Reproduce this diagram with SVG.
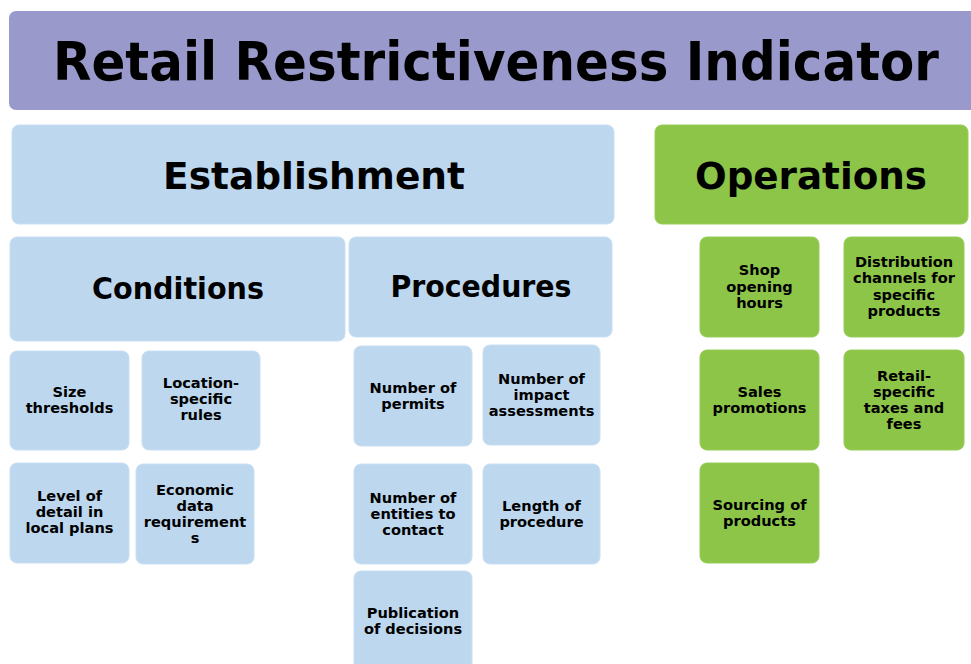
<svg xmlns="http://www.w3.org/2000/svg" width="971" height="664" viewBox="0 0 971 664">
<style>
.blue{fill:#BDD7EE;stroke:#C9DFF2;stroke-width:1}
.green{fill:#8DC549;stroke:#98CC58;stroke-width:1}
.title{fill:#9999CC}
text{font-family:"DejaVu Sans","Verdana",sans-serif;font-weight:bold;fill:#000;text-anchor:middle}
.s{font-size:14.6px}
.h{font-size:30px}
.b{font-size:38px}
</style>
<rect width="971" height="664" fill="#FFFFFF"/>
<g id="title">
<path class="title" d="M16,11 H971 V110 H16 A7,7 0 0 1 9,103 V18 A7,7 0 0 1 16,11 Z"/>
<text x="496" y="80" style="font-size:54px" textLength="886" lengthAdjust="spacingAndGlyphs">Retail Restrictiveness Indicator</text>
</g>
<g id="establishment">
<rect class="blue" x="12" y="125" width="602" height="99" rx="7"/>
<text class="b" x="314" y="189" textLength="302" lengthAdjust="spacingAndGlyphs">Establishment</text>
</g>
<g id="operations">
<rect class="green" x="655" y="125" width="313" height="99" rx="7"/>
<text class="b" x="811" y="189" textLength="232" lengthAdjust="spacingAndGlyphs">Operations</text>
</g>
<g id="conditions">
<rect class="blue" x="10" y="237" width="335" height="104" rx="7"/>
<text class="h" x="178" y="299" textLength="172" lengthAdjust="spacingAndGlyphs">Conditions</text>
</g>
<g id="procedures">
<rect class="blue" x="349" y="237" width="263" height="100" rx="7"/>
<text class="h" x="481" y="297" textLength="181" lengthAdjust="spacingAndGlyphs">Procedures</text>
</g>
<g id="size-thresholds">
<rect class="blue" x="10" y="351" width="119" height="99" rx="7"/>
<text class="s" x="69.5" y="397">Size</text>
<text class="s" x="69.5" y="413">thresholds</text>
</g>
<g id="location-specific-rules">
<rect class="blue" x="142" y="351" width="118" height="99" rx="7"/>
<text class="s" x="201" y="388">Location-</text>
<text class="s" x="201" y="404">specific</text>
<text class="s" x="201" y="420">rules</text>
</g>
<g id="level-of-detail">
<rect class="blue" x="10" y="463" width="119" height="100" rx="7"/>
<text class="s" x="69.5" y="501">Level of</text>
<text class="s" x="69.5" y="517">detail in</text>
<text class="s" x="69.5" y="533">local plans</text>
</g>
<g id="economic-data">
<rect class="blue" x="136" y="464" width="118" height="100" rx="7"/>
<text class="s" x="195" y="495">Economic</text>
<text class="s" x="195" y="511">data</text>
<text class="s" x="195" y="527">requirement</text>
<text class="s" x="195" y="543">s</text>
</g>
<g id="number-of-permits">
<rect class="blue" x="354" y="346" width="118" height="100" rx="7"/>
<text class="s" x="413" y="393">Number of</text>
<text class="s" x="413" y="409">permits</text>
</g>
<g id="impact-assessments">
<rect class="blue" x="483" y="345" width="117" height="100" rx="7"/>
<text class="s" x="541.5" y="384">Number of</text>
<text class="s" x="541.5" y="400">impact</text>
<text class="s" x="541.5" y="416">assessments</text>
</g>
<g id="entities-to-contact">
<rect class="blue" x="354" y="464" width="118" height="100" rx="7"/>
<text class="s" x="413" y="503">Number of</text>
<text class="s" x="413" y="519">entities to</text>
<text class="s" x="413" y="535">contact</text>
</g>
<g id="length-of-procedure">
<rect class="blue" x="483" y="464" width="117" height="100" rx="7"/>
<text class="s" x="541.5" y="511">Length of</text>
<text class="s" x="541.5" y="527">procedure</text>
</g>
<g id="publication-of-decisions">
<rect class="blue" x="354" y="571" width="118" height="100" rx="7"/>
<text class="s" x="413" y="618">Publication</text>
<text class="s" x="413" y="634">of decisions</text>
</g>
<g id="shop-opening-hours">
<rect class="green" x="700" y="237" width="119" height="100" rx="7"/>
<text class="s" x="759.5" y="275">Shop</text>
<text class="s" x="759.5" y="292">opening</text>
<text class="s" x="759.5" y="308">hours</text>
</g>
<g id="distribution-channels">
<rect class="green" x="844" y="237" width="120" height="100" rx="7"/>
<text class="s" x="904" y="267">Distribution</text>
<text class="s" x="904" y="283">channels for</text>
<text class="s" x="904" y="300">specific</text>
<text class="s" x="904" y="316">products</text>
</g>
<g id="sales-promotions">
<rect class="green" x="700" y="350" width="119" height="100" rx="7"/>
<text class="s" x="759.5" y="397">Sales</text>
<text class="s" x="759.5" y="413">promotions</text>
</g>
<g id="retail-specific-taxes">
<rect class="green" x="844" y="350" width="120" height="100" rx="7"/>
<text class="s" x="904" y="381">Retail-</text>
<text class="s" x="904" y="397">specific</text>
<text class="s" x="904" y="413">taxes and</text>
<text class="s" x="904" y="429">fees</text>
</g>
<g id="sourcing-of-products">
<rect class="green" x="700" y="463" width="119" height="100" rx="7"/>
<text class="s" x="759.5" y="510">Sourcing of</text>
<text class="s" x="759.5" y="526">products</text>
</g>
<g id="connectors"/>
</svg>
